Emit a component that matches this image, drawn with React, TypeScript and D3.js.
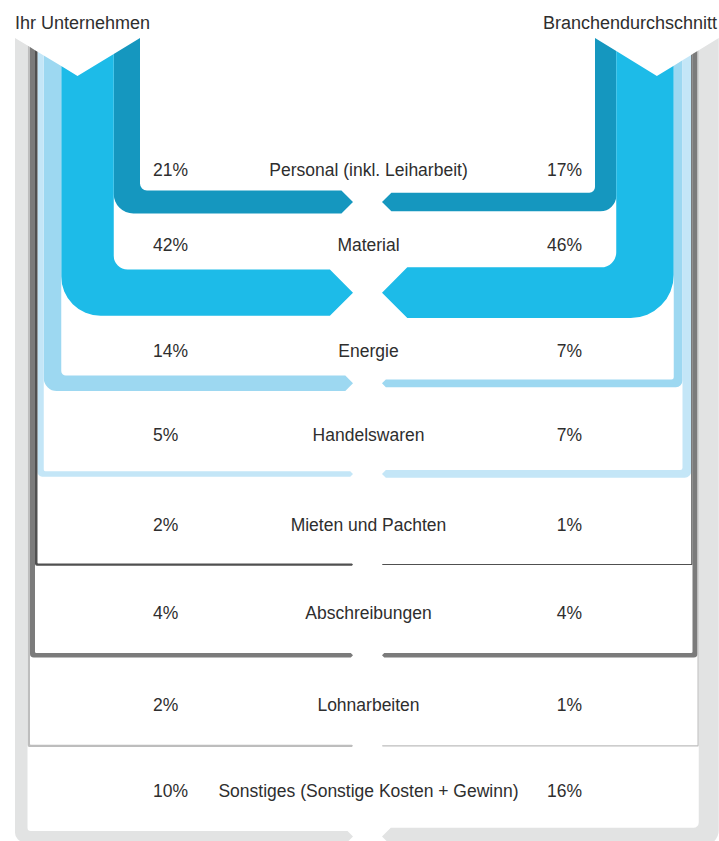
import React from "react";
import * as d3 from "d3";

// ---------- data ----------
const categories = [
  "Personal (inkl. Leiharbeit)",
  "Material",
  "Energie",
  "Handelswaren",
  "Mieten und Pachten",
  "Abschreibungen",
  "Lohnarbeiten",
  "Sonstiges (Sonstige Kosten + Gewinn)",
];
const companyValues = [21, 42, 14, 5, 2, 4, 2, 10];
const industryValues = [17, 46, 7, 7, 1, 4, 1, 16];
const seriesLabels = ["Ihr Unternehmen", "Branchendurchschnitt"];

// ---------- styles / layout ----------
const WIDTH = 719;
const HEIGHT = 841;
const PALETTE = [
  "#1597bf",
  "#1dbbe8",
  "#9dd8f1",
  "#c4e6f7",
  "#505050",
  "#7b7b7b",
  "#bdbdbd",
  "#e2e3e3",
];
const FONT = "'Liberation Sans', Arial, Helvetica, sans-serif";
const TEXT_COLOR = "#2e2e2e";
const TOP_Y = 38;
const NOTCH_Y = 76;
const CENTER_X = 367.5;
const TIP_GAP = 14.5;

function cumulative(values: number[]): [number, number][] {
  let acc = 0;
  return values.map((v) => {
    const s = acc;
    acc += v;
    return [s, acc];
  });
}

function notchY(x: number, x0: number, x1: number) {
  const mid = (x0 + x1) / 2;
  const half = (x1 - x0) / 2;
  return TOP_Y + (NOTCH_Y - TOP_Y) * (1 - Math.abs(x - mid) / half);
}

function leftPath(xi: number, xo: number, yc: number, h: number, tipX: number, b0: number, b1: number) {
  const ri = 0.3 * h;
  const ro = 0.85 * h;
  const tip = h / 2;
  const top = yc - h / 2;
  const bot = yc + h / 2;
  const mid = (b0 + b1) / 2;
  const p = d3.path();
  p.moveTo(xo, notchY(xo, b0, b1));
  if (xo < mid && mid < xi) p.lineTo(mid, NOTCH_Y);
  p.lineTo(xi, notchY(xi, b0, b1));
  p.arcTo(xi, top, tipX, top, ri);
  p.lineTo(tipX - tip, top);
  p.lineTo(tipX, yc);
  p.lineTo(tipX - tip, bot);
  p.arcTo(xo, bot, xo, 0, ro);
  p.closePath();
  return p.toString();
}

function rightPath(xi: number, xo: number, yc: number, h: number, tipX: number, b0: number, b1: number) {
  const ri = 0.3 * h;
  const ro = 0.85 * h;
  const tip = h / 2;
  const top = yc - h / 2;
  const bot = yc + h / 2;
  const mid = (b0 + b1) / 2;
  const p = d3.path();
  p.moveTo(xi, notchY(xi, b0, b1));
  if (xi < mid && mid < xo) p.lineTo(mid, NOTCH_Y);
  p.lineTo(xo, notchY(xo, b0, b1));
  p.arcTo(xo, bot, tipX, bot, ro);
  p.lineTo(tipX + tip, bot);
  p.lineTo(tipX, yc);
  p.lineTo(tipX + tip, top);
  p.arcTo(xi, top, xi, 0, ri);
  p.closePath();
  return p.toString();
}

export default function App() {
  const n = categories.length;
  const xLeft = d3.scaleLinear().domain([0, 100]).range([140, 15]);
  const xRight = d3.scaleLinear().domain([0, 100]).range([595, 720]);
  const thick = d3.scaleLinear().domain([0, 100]).range([0, 110]);
  const yRow = d3.scaleLinear().domain([0, n - 1]).range([202, 836.5]);

  const cumL = cumulative(companyValues);
  const cumR = cumulative(industryValues);
  const totalL = d3.sum(companyValues);
  const totalR = d3.sum(industryValues);
  const lb0 = xLeft(totalL);
  const lb1 = xLeft(0);
  const rb0 = xRight(0);
  const rb1 = xRight(totalR);

  const hMax = (i: number) => thick(Math.max(companyValues[i], industryValues[i]));
  const labelY = (i: number) =>
    i === 0
      ? yRow(0) - hMax(0) / 2 - 20.5
      : (yRow(i - 1) + hMax(i - 1) / 2 + (yRow(i) - hMax(i) / 2)) / 2 + 4;

  return (
    <svg
      width={WIDTH}
      height={HEIGHT}
      viewBox={`0 0 ${WIDTH} ${HEIGHT}`}
      style={{ position: "absolute", left: 0, top: 0, display: "block", background: "#fff" }}
    >
      {categories.map((c, i) => (
        <path
          key={"l" + c}
          d={leftPath(
            xLeft(cumL[i][0]),
            xLeft(cumL[i][1]),
            yRow(i),
            thick(companyValues[i]),
            CENTER_X - TIP_GAP,
            lb0,
            lb1
          )}
          fill={PALETTE[i]}
        />
      ))}
      {categories.map((c, i) => (
        <path
          key={"r" + c}
          d={rightPath(
            xRight(cumR[i][0]),
            xRight(cumR[i][1]),
            yRow(i),
            thick(industryValues[i]),
            CENTER_X + TIP_GAP,
            rb0,
            rb1
          )}
          fill={PALETTE[i]}
        />
      ))}
      <g fontFamily={FONT} fontSize={17.5} fill={TEXT_COLOR}>
        {categories.map((c, i) => (
          <g key={"t" + c}>
            <text x={153} y={labelY(i)} dy="0.35em" textAnchor="start">
              {companyValues[i]}%
            </text>
            <text x={368.5} y={labelY(i)} dy="0.35em" textAnchor="middle">
              {c}
            </text>
            <text x={582} y={labelY(i)} dy="0.35em" textAnchor="end">
              {industryValues[i]}%
            </text>
          </g>
        ))}
      </g>
      <g fontFamily={FONT} fontSize={18} fill={TEXT_COLOR}>
        <text x={lb0} y={29} textAnchor="start">
          {seriesLabels[0]}
        </text>
        <text x={543} y={29} textAnchor="start">
          {seriesLabels[1]}
        </text>
      </g>
    </svg>
  );
}
